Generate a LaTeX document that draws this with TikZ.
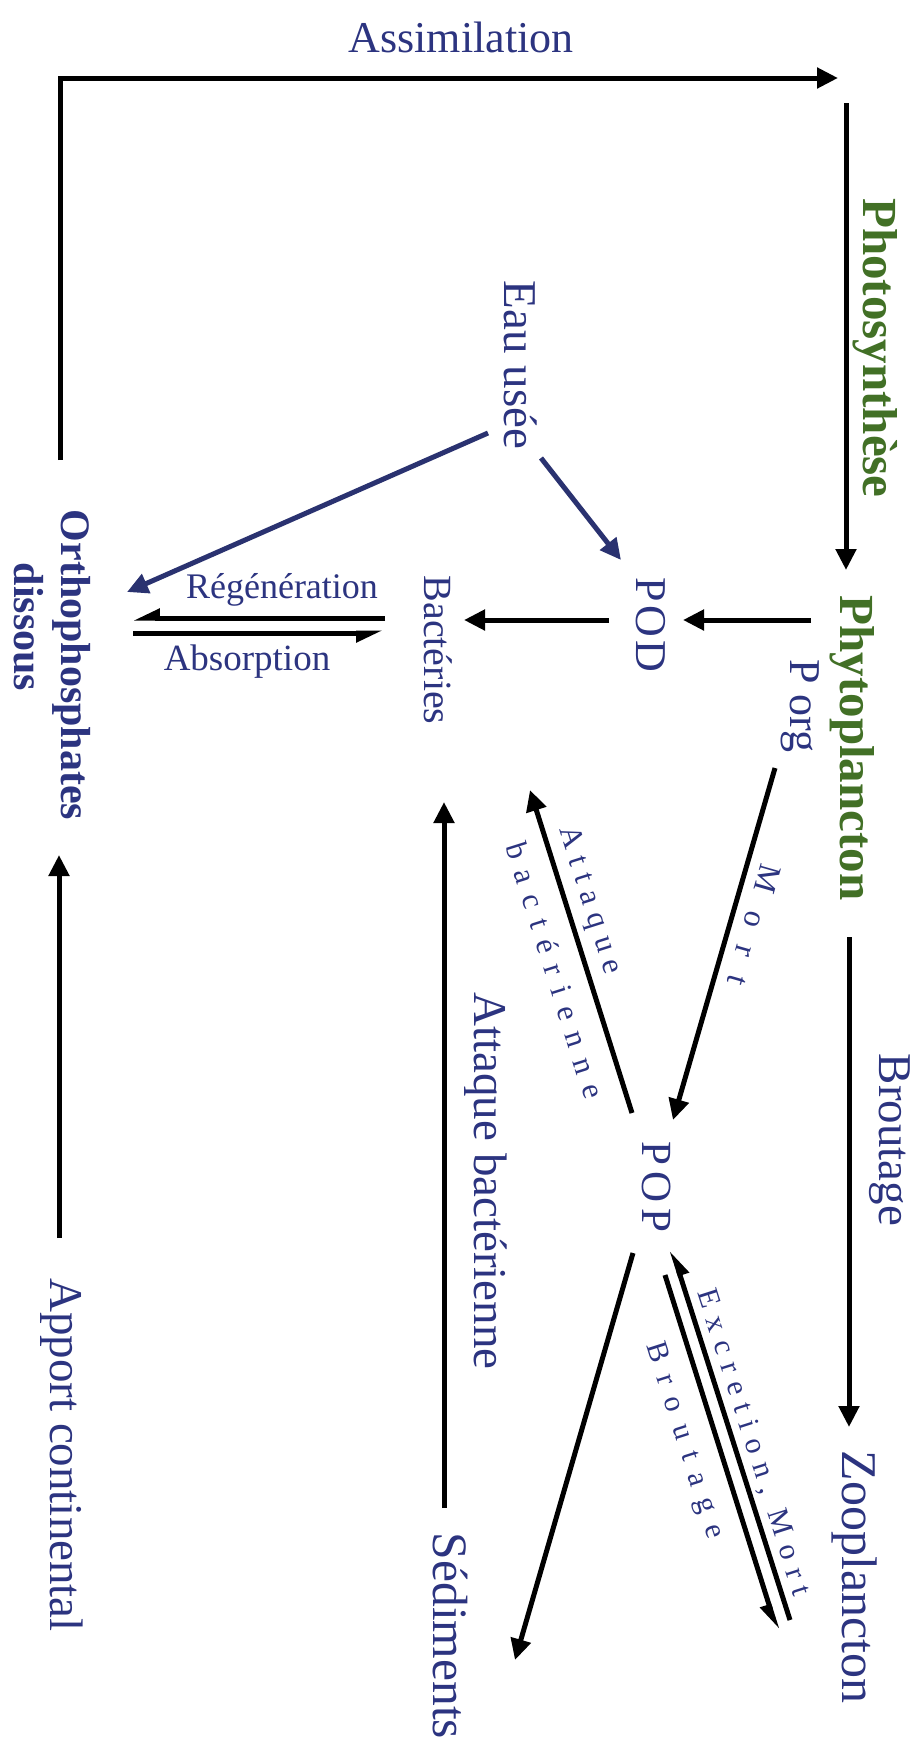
\documentclass[tikz,border=0pt]{standalone}
\usepackage{fontspec}
\setmainfont{Liberation Serif}
\usetikzlibrary{arrows.meta}
\definecolor{tblue}{RGB}{44,52,128}
\definecolor{tgreen}{RGB}{66,112,38}
\definecolor{ablue}{RGB}{42,50,112}
\newcommand{\fsz}[2]{\fontsize{#1}{#2}\selectfont}
\begin{document}
\begin{tikzpicture}[x=1pt,y=-1pt,
  lbl/.style={inner sep=0pt, text=tblue},
  vlbl/.style={lbl, rotate=-90},
  grn/.style={text=tgreen, font=\fsz{49}{52}\bfseries},
  arr/.style={line width=5pt, -{Stealth[inset=0pt,length=21pt,width=20pt]}},
  barr/.style={arr, draw=ablue, -{Stealth[inset=0pt,length=21pt,width=20pt,color=ablue]}},
  harp/.style={line width=5pt, -{Stealth[inset=0pt,length=21pt,width=18pt,harpoon,swap]}}
]
\useasboundingbox (0,0) rectangle (922,1754);
\fill[white] (0,0) rectangle (922,1754);

% labels / nodes
\node[lbl, font=\fsz{44}{50}] (assim) at (461,37) {Assimilation};
\node[vlbl, grn] (photo) at (875,348) {Photosynthèse};
\node[vlbl, font=\fsz{47}{50}] (eau) at (521,365) {Eau usée};
\node[vlbl, grn] (phyto) at (852,748) {Phytoplancton};
\node[vlbl, font=\fsz{44}{48}] (porg) at (800,706) {P org};
\node[vlbl, font=\fsz{44}{48}\addfontfeature{LetterSpace=8}] (pod) at (651,625) {POD};
\node[vlbl, font=\fsz{40}{44}] (bact) at (438,650) {Bactéries};
\node[vlbl, font=\fsz{42}{47}\bfseries, align=left] (ortho) at (52,665) {Orthophosphates\\\hspace*{53pt}dissous};
\node[lbl, font=\fsz{36}{40}] (regen) at (282,590) {Régénération};
\node[lbl, font=\fsz{37}{40}] (absorp) at (247,662) {Absorption};
\node[vlbl, font=\fsz{47}{50}] (brout) at (890,1140) {Broutage};
\node[vlbl, font=\fsz{43}{47}\addfontfeature{LetterSpace=14}] (pop) at (657,1187) {POP};
\node[vlbl, font=\fsz{50}{54}] (zoo) at (855,1577) {Zooplancton};
\node[vlbl, font=\fsz{49.5}{52}] (sed) at (450,1636) {Sédiments};
\node[vlbl, font=\fsz{47}{50}] (attv) at (486,1181) {Attaque bactérienne};
\node[vlbl, font=\fsz{47}{50}] (apport) at (62,1455) {Apport continental};
\node[lbl, rotate=-106, font=\fsz{32}{36}\addfontfeature{LetterSpace=63}] (mort) at (754,925) {Mort};
\node[lbl, rotate=-72.5, align=left, font=\fsz{31}{57}\addfontfeature{LetterSpace=40}] (attd) at (582,962) {{\addfontfeature{LetterSpace=30}Attaque}\\bactérienne};
\node[lbl, rotate=-72.3, font=\fsz{30}{34}\addfontfeature{LetterSpace=33}] (excr) at (753,1443) {Excretion, Mort};
\node[lbl, rotate=-72.3, font=\fsz{30}{34}\addfontfeature{LetterSpace=45}] (brsm) at (684,1441) {Broutage};

% connector end points
\coordinate (orthoTop) at (60,460);
\coordinate (assimEnd) at (838,78);
\coordinate (photoStart) at (846,103);
\coordinate (phytoTop) at (846,570);
\coordinate (phytoW) at (811,620);
\coordinate (podE) at (683,620);
\coordinate (podW) at (609,620);
\coordinate (bactE) at (464,620);
\coordinate (bactRg) at (385,618);
\coordinate (orthoRg) at (133,618);
\coordinate (orthoAb) at (133,633);
\coordinate (bactAb) at (383,633);
\coordinate (eauA) at (488,433);
\coordinate (orthoE) at (127,592);
\coordinate (eauB) at (541,458);
\coordinate (podN) at (621,560);
\coordinate (porgS) at (775,768);
\coordinate (popN) at (673,1120);
\coordinate (popNW) at (632,1113);
\coordinate (bactSE) at (530,790);
\coordinate (broutStart) at (849,937);
\coordinate (zooTop) at (849,1427);
\coordinate (zooA) at (790,1620);
\coordinate (popA) at (672,1250);
\coordinate (popB) at (665,1275);
\coordinate (zooB) at (777,1630);
\coordinate (popS) at (633,1253);
\coordinate (sedN) at (515,1660);
\coordinate (sedTop) at (444,1508);
\coordinate (bactS) at (444,802);
\coordinate (apportTop) at (59,1238);
\coordinate (orthoS) at (59,855);

% connectors
\draw[arr] (orthoTop) |- (assimEnd);
\draw[arr] (photoStart) -- (phytoTop);
\draw[arr] (phytoW) -- (podE);
\draw[arr] (podW) -- (bactE);
\draw[harp] (bactRg) -- (orthoRg);
\draw[harp] (orthoAb) -- (bactAb);
\draw[barr] (eauA) -- (orthoE);
\draw[barr] (eauB) -- (podN);
\draw[arr] (porgS) -- (popN);
\draw[arr] (popNW) -- (bactSE);
\draw[arr] (broutStart) -- (zooTop);
\draw[harp] (zooA) -- (popA);
\draw[harp] (popB) -- (zooB);
\draw[arr] (popS) -- (sedN);
\draw[arr] (sedTop) -- (bactS);
\draw[arr] (apportTop) -- (orthoS);
\end{tikzpicture}
\end{document}
